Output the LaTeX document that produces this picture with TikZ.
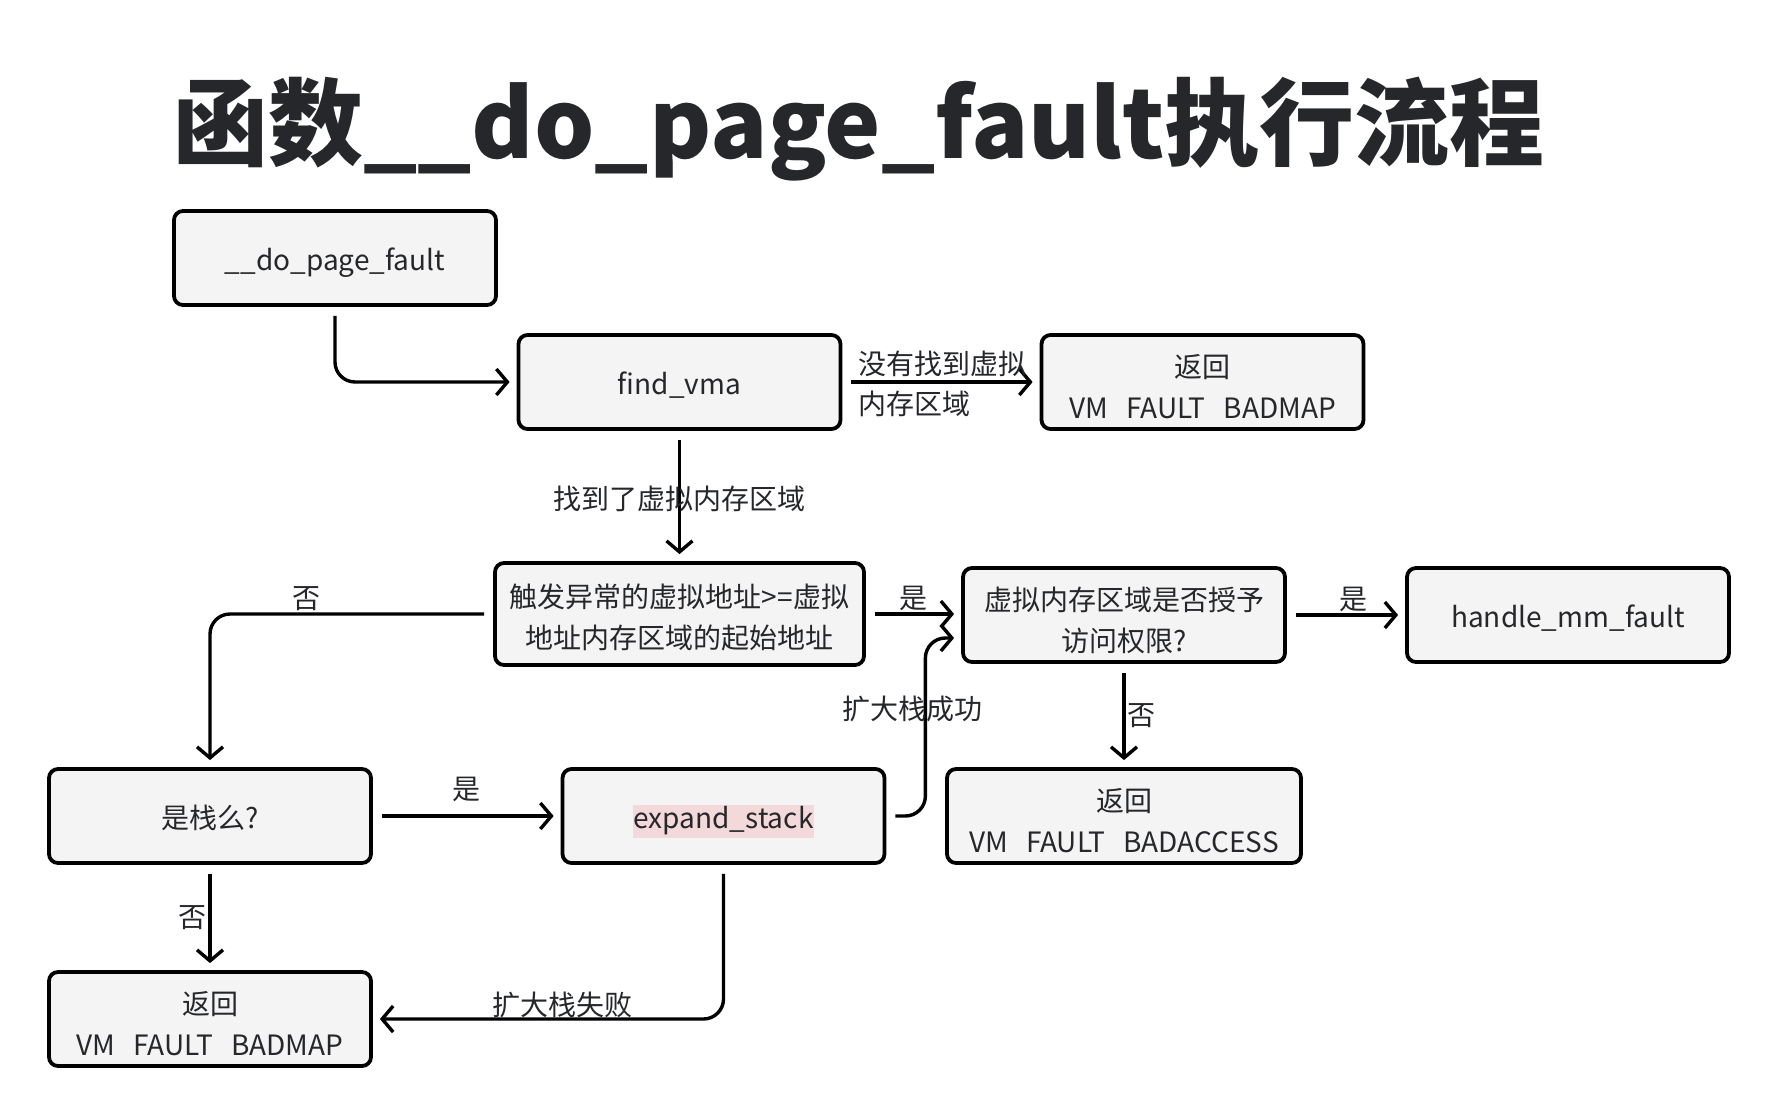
\documentclass[tikz,border=0pt]{standalone}
\usepackage{fontspec}
\setmainfont{Noto Sans CJK SC}
\usetikzlibrary{arrows.meta,calc}
\definecolor{boxfill}{HTML}{F4F4F4}
\definecolor{txt}{HTML}{25272A}
\definecolor{hl}{HTML}{F4D9DA}
\newcommand{\bt}[2][4pt]{\raisebox{-#1}[\height][\depth]{\begin{tabular}{@{}c@{}}#2\end{tabular}}}
\newcommand{\gp}{\hspace{0.65em}}
\tikzset{
  fbox/.style={draw=black, line width=3.8pt, rounded corners=9pt, fill=boxfill,
    minimum width=322pt, minimum height=94pt, text=txt,
    font=\fontsize{28}{41}\selectfont, inner sep=0pt},
  conn/.style={draw=black, line width=3.4pt, rounded corners=20pt,
    -{Straight Barb[length=11pt,width=26pt,line width=3.4pt]},
    shorten <=9pt, shorten >=7pt},
  lbl/.style={text=txt, font=\fontsize{28}{40}\selectfont, inner sep=2pt}
}
\begin{document}
\begin{tikzpicture}[x=1pt,y=-1pt]
\useasboundingbox[fill=white] (0,0) rectangle (1780,1116);
\node[text=txt, font=\fontsize{95}{110}\selectfont\bfseries] (title) at (859,129) {函数\_\_do\_page\_fault执行流程};
\node[fbox] (dpf) at (335,258) {\bt{\_\_do\_page\_fault}};
\node[fbox] (fvma) at (679.5,382) {\bt{find\_vma}};
\node[fbox] (ret1) at (1202.5,382) {\bt[8pt]{返回\\VM\gp FAULT\gp BADMAP}};
\node[fbox, minimum width=369pt, minimum height=102pt] (trig) at (679.5,614) {\bt[5.5pt]{触发异常的虚拟地址>=虚拟\\地址内存区域的起始地址}};
\node[fbox] (perm) at (1124,615) {\bt[8pt]{虚拟内存区域是否授予\\访问权限?}};
\node[fbox] (hmm) at (1568,615) {\bt{handle\_mm\_fault}};
\node[fbox] (isstack) at (210,816) {\bt{是栈么?}};
\node[fbox] (exps) at (723.5,816) {\bt{{\setlength{\fboxsep}{1pt}\colorbox{hl}{\rule[-9pt]{0pt}{28pt}expand\_stack}}}};
\node[fbox, minimum width=354pt] (retacc) at (1124,816) {\bt[8pt]{返回\\VM\gp FAULT\gp BADACCESS}};
\node[fbox] (ret2) at (210,1019) {\bt[8pt]{返回\\VM\gp FAULT\gp BADMAP}};

\draw[conn] (dpf.south) |- (fvma.west);
\draw[conn] (fvma.east) -- (ret1.west);
\node[lbl, anchor=west, align=left] (lnf) at ($(fvma.east)+(14,2)$) {没有找到虚拟\\内存区域};
\draw[conn] (fvma.south) -- node[lbl, pos=0.52] {找到了虚拟内存区域} (trig.north);
\draw[conn] (trig.west) -| node[lbl, pos=0.33, above] {否} (isstack.north);
\draw[conn] (trig.east) -- node[lbl, above] {是} (trig.east -| perm.west);
\draw[conn] (perm.east) -- node[lbl, above, pos=0.56] {是} (hmm.west);
\draw[conn] (perm.south) -- node[lbl, right, pos=0.5] {否} (retacc.north);
\draw[conn] (isstack.east) -- node[lbl, above, yshift=11pt] {是} (exps.west);
\draw[conn] (isstack.south) -- node[lbl, left, pos=0.5] {否} (ret2.north);
\draw[conn] (exps.east) -- ++(39,0) |- node[lbl, pos=0.3, xshift=-13pt] {扩大栈成功} ($(perm.west)+(0,23)$);
\draw[conn] (exps.south) |- node[lbl, pos=0.73, anchor=south, inner sep=0pt, yshift=-1pt] {扩大栈失败} (ret2.east);
\end{tikzpicture}
\end{document}
